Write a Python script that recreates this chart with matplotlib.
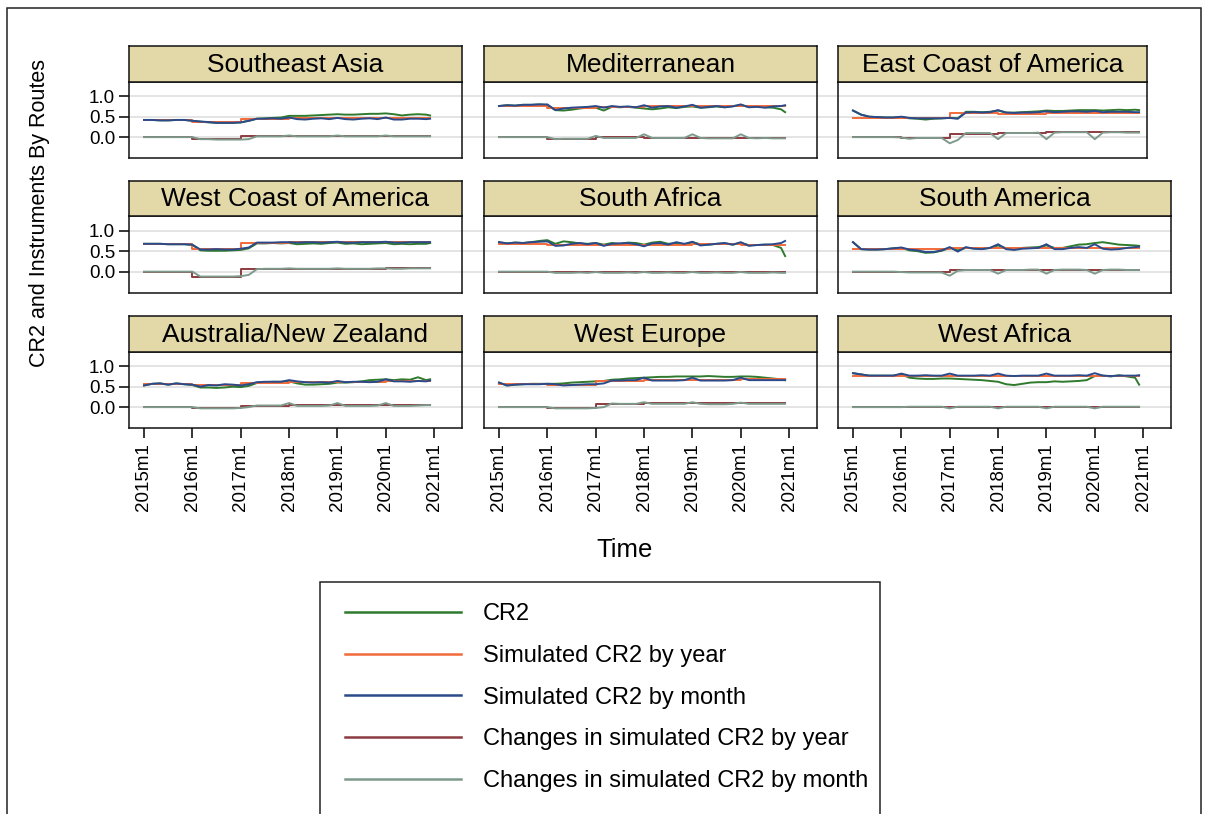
import matplotlib
matplotlib.use("Agg")
import matplotlib.pyplot as plt
import matplotlib.transforms as mtransforms
from matplotlib.lines import Line2D
from matplotlib.patches import Rectangle

plt.rcParams['font.family'] = ['Liberation Sans', 'DejaVu Sans']

# routes (panel order)
routes = ["Southeast Asia", "Mediterranean", "East Coast of America",
          "West Coast of America", "South Africa", "South America",
          "Australia/New Zealand", "West Europe", "West Africa"]

# month index: 0 = 2015m1 ... 71 = 2020m12 (read every 2nd month)
months = list(range(0, 71, 2)) + [71]
year_starts = [0, 12, 24, 36, 48, 60, 71]
tick_pos = [0, 12, 24, 36, 48, 60, 72]
tick_labels = ["2015m1", "2016m1", "2017m1", "2018m1", "2019m1", "2020m1", "2021m1"]

series_names = ["CR2", "Simulated CR2 by year", "Simulated CR2 by month",
                "Changes in simulated CR2 by year", "Changes in simulated CR2 by month"]
series_colors = ["#2f7a2c", "#f26a3a", "#2b4a8b", "#8c3b40", "#7e9a8c"]

# CR2
cr2 = [
    [0.42,0.42,0.41,0.41,0.42,0.42, 0.40,0.38,0.36,0.35,0.35,0.35, 0.36,0.40,0.45,0.46,0.47,0.48,
     0.52,0.52,0.52,0.53,0.54,0.55, 0.56,0.55,0.55,0.56,0.57,0.57, 0.58,0.56,0.53,0.55,0.56,0.55, 0.53],
    [0.76,0.78,0.77,0.79,0.79,0.80, 0.78,0.66,0.65,0.67,0.70,0.72, 0.72,0.65,0.74,0.73,0.74,0.72,
     0.70,0.68,0.70,0.73,0.71,0.74, 0.75,0.72,0.73,0.75,0.73,0.76, 0.78,0.74,0.75,0.73,0.72,0.68, 0.61],
    [0.65,0.55,0.50,0.49,0.48,0.48, 0.49,0.46,0.45,0.43,0.45,0.46, 0.47,0.46,0.62,0.62,0.61,0.62,
     0.65,0.60,0.60,0.61,0.62,0.63, 0.65,0.64,0.64,0.65,0.66,0.66, 0.66,0.65,0.66,0.67,0.66,0.67, 0.66],
    [0.68,0.68,0.68,0.67,0.67,0.67, 0.65,0.52,0.51,0.51,0.51,0.52, 0.53,0.57,0.69,0.69,0.70,0.69,
     0.70,0.67,0.68,0.69,0.68,0.70, 0.71,0.68,0.69,0.67,0.68,0.69, 0.70,0.67,0.68,0.67,0.68,0.68, 0.70],
    [0.72,0.69,0.71,0.70,0.72,0.75, 0.77,0.68,0.74,0.72,0.69,0.68, 0.70,0.66,0.70,0.68,0.71,0.70,
     0.66,0.71,0.73,0.68,0.70,0.66, 0.72,0.67,0.66,0.68,0.69,0.66, 0.70,0.65,0.65,0.66,0.65,0.58, 0.38],
    [0.72,0.55,0.54,0.54,0.55,0.57, 0.58,0.52,0.50,0.46,0.47,0.51, 0.58,0.52,0.58,0.57,0.56,0.58,
     0.64,0.57,0.56,0.58,0.59,0.60, 0.64,0.58,0.58,0.62,0.66,0.67, 0.70,0.72,0.69,0.66,0.65,0.64, 0.63],
    [0.53,0.57,0.58,0.55,0.58,0.56, 0.54,0.48,0.48,0.47,0.48,0.50, 0.49,0.52,0.59,0.61,0.62,0.62,
     0.63,0.58,0.55,0.55,0.56,0.57, 0.60,0.60,0.61,0.63,0.66,0.67, 0.68,0.66,0.68,0.67,0.73,0.66, 0.68],
    [0.60,0.53,0.55,0.56,0.57,0.57, 0.57,0.57,0.58,0.60,0.61,0.62, 0.63,0.64,0.67,0.68,0.70,0.71,
     0.72,0.73,0.74,0.74,0.75,0.75, 0.75,0.75,0.76,0.75,0.74,0.74, 0.75,0.75,0.74,0.72,0.70,0.68, 0.66],
    [0.83,0.80,0.77,0.77,0.77,0.77, 0.80,0.72,0.70,0.69,0.69,0.70, 0.70,0.69,0.68,0.67,0.66,0.64,
     0.62,0.56,0.54,0.57,0.60,0.61, 0.61,0.63,0.62,0.63,0.64,0.66, 0.76,0.77,0.75,0.78,0.75,0.72, 0.55],
]

# simulated CR2 by month
sim_month = [
    [0.42,0.42,0.41,0.41,0.42,0.42, 0.40,0.38,0.37,0.35,0.35,0.35, 0.36,0.40,0.45,0.45,0.46,0.45,
     0.48,0.44,0.43,0.45,0.46,0.44, 0.47,0.44,0.43,0.45,0.46,0.44, 0.48,0.43,0.43,0.45,0.45,0.44, 0.45],
    [0.76,0.78,0.77,0.79,0.79,0.80, 0.80,0.66,0.70,0.72,0.73,0.74, 0.76,0.72,0.76,0.74,0.75,0.73,
     0.78,0.72,0.75,0.76,0.72,0.75, 0.79,0.72,0.74,0.76,0.73,0.75, 0.80,0.73,0.74,0.72,0.75,0.76, 0.78],
    [0.65,0.55,0.50,0.49,0.48,0.48, 0.50,0.47,0.46,0.46,0.46,0.46, 0.47,0.45,0.60,0.61,0.60,0.61,
     0.66,0.60,0.59,0.60,0.60,0.61, 0.63,0.61,0.62,0.63,0.63,0.62, 0.64,0.61,0.62,0.62,0.62,0.61, 0.61],
    [0.68,0.68,0.68,0.67,0.67,0.67, 0.66,0.54,0.54,0.55,0.54,0.54, 0.56,0.59,0.71,0.71,0.71,0.72,
     0.72,0.71,0.72,0.72,0.71,0.72, 0.73,0.71,0.71,0.72,0.72,0.72, 0.73,0.71,0.71,0.72,0.72,0.72, 0.72],
    [0.72,0.69,0.71,0.70,0.72,0.73, 0.74,0.63,0.64,0.68,0.70,0.67, 0.70,0.63,0.68,0.69,0.70,0.67,
     0.62,0.69,0.70,0.66,0.72,0.68, 0.73,0.64,0.66,0.68,0.70,0.66, 0.72,0.63,0.65,0.66,0.67,0.70, 0.75],
    [0.72,0.55,0.54,0.54,0.55,0.57, 0.59,0.54,0.52,0.48,0.48,0.52, 0.60,0.49,0.60,0.56,0.55,0.58,
     0.67,0.55,0.53,0.56,0.57,0.58, 0.67,0.55,0.55,0.58,0.60,0.58, 0.67,0.56,0.54,0.55,0.58,0.60, 0.61],
    [0.53,0.57,0.58,0.55,0.58,0.56, 0.55,0.50,0.54,0.53,0.56,0.55, 0.53,0.56,0.61,0.62,0.62,0.62,
     0.66,0.63,0.61,0.60,0.61,0.60, 0.64,0.61,0.62,0.62,0.61,0.62, 0.68,0.63,0.63,0.62,0.64,0.63, 0.65],
    [0.60,0.53,0.55,0.56,0.56,0.56, 0.57,0.56,0.53,0.54,0.55,0.56, 0.56,0.58,0.65,0.65,0.66,0.66,
     0.72,0.65,0.65,0.65,0.65,0.66, 0.72,0.65,0.65,0.65,0.65,0.66, 0.72,0.66,0.66,0.66,0.66,0.66, 0.66],
    [0.83,0.80,0.77,0.77,0.77,0.77, 0.82,0.77,0.77,0.78,0.77,0.77, 0.82,0.77,0.77,0.77,0.78,0.77,
     0.82,0.77,0.76,0.77,0.77,0.77, 0.82,0.77,0.77,0.77,0.78,0.77, 0.83,0.77,0.76,0.77,0.77,0.77, 0.78],
]

# changes in simulated CR2 by month
chg_month = [
    [0,0,0,0,0,0, 0,-0.05,-0.05,-0.06,-0.06,-0.06, -0.06,-0.05,0.02,0.02,0.02,0.02,
     0.04,0.02,0.02,0.02,0.02,0.02, 0.04,0.02,0.02,0.02,0.02,0.02, 0.04,0.02,0.02,0.02,0.02,0.02, 0.02],
    [0,0,0,0,0,0, 0,-0.05,-0.04,-0.04,-0.04,-0.04, 0.03,-0.02,-0.02,-0.02,-0.02,-0.02,
     0.07,-0.02,-0.02,-0.02,-0.02,-0.02, 0.07,-0.02,-0.03,-0.03,-0.03,-0.03, 0.07,-0.02,-0.03,-0.02,-0.03,-0.03, -0.03],
    [0,0,0,0,0,0, -0.01,-0.04,-0.02,-0.02,-0.02,-0.02, -0.15,-0.07,0.10,0.10,0.10,0.10,
     -0.05,0.10,0.10,0.10,0.10,0.11, -0.05,0.11,0.12,0.12,0.12,0.12, -0.05,0.11,0.12,0.12,0.11,0.11, 0.11],
    [0,0,0,0,0,0, 0,-0.12,-0.12,-0.12,-0.12,-0.12, -0.11,-0.08,0.06,0.07,0.07,0.07,
     0.08,0.07,0.07,0.07,0.07,0.07, 0.08,0.07,0.07,0.07,0.07,0.08, 0.08,0.07,0.07,0.08,0.08,0.08, 0.08],
    [0,0,0,0,0,0, 0,-0.03,-0.03,-0.03,-0.02,-0.03, -0.01,-0.03,-0.03,-0.03,-0.02,-0.03,
     -0.01,-0.03,-0.03,-0.02,-0.03,-0.03, -0.01,-0.03,-0.03,-0.02,-0.03,-0.03, -0.01,-0.03,-0.03,-0.03,-0.02,-0.03, -0.03],
    [0,0,0,0,0,0, -0.01,-0.02,-0.02,-0.02,-0.02,-0.02, -0.10,0.02,0.04,0.04,0.04,0.04,
     -0.05,0.04,0.04,0.04,0.05,0.05, -0.05,0.04,0.05,0.05,0.05,0.04, -0.05,0.04,0.05,0.05,0.04,0.04, 0.04],
    [0,0,0,0,0,0, 0,-0.03,-0.03,-0.03,-0.03,-0.03, -0.02,0.00,0.04,0.04,0.04,0.04,
     0.10,0.03,0.03,0.03,0.03,0.04, 0.10,0.03,0.03,0.03,0.03,0.04, 0.10,0.03,0.03,0.03,0.04,0.05, 0.05],
    [0,0,0,0,0,0, 0,-0.03,-0.03,-0.03,-0.03,-0.03, -0.02,0.00,0.09,0.08,0.08,0.08,
     0.12,0.08,0.08,0.08,0.08,0.08, 0.12,0.08,0.07,0.07,0.07,0.08, 0.11,0.08,0.08,0.08,0.08,0.08, 0.08],
    [0,0,0,0,0,0, 0,0.01,0.01,0.01,0.01,0.01, -0.03,0.01,0.01,0.01,0.01,0.01,
     -0.03,0.01,0.01,0.01,0.01,0.01, -0.03,0.01,0.01,0.01,0.01,0.01, -0.03,0.01,0.01,0.01,0.01,0.01, 0.01],
]

# yearly series: one value per year 2015..2020
sim_year = [
    [0.42, 0.37, 0.44, 0.46, 0.46, 0.46],
    [0.77, 0.72, 0.74, 0.76, 0.75, 0.76],
    [0.47, 0.47, 0.58, 0.57, 0.60, 0.60],
    [0.68, 0.55, 0.71, 0.72, 0.72, 0.72],
    [0.67, 0.66, 0.66, 0.66, 0.67, 0.66],
    [0.55, 0.55, 0.58, 0.58, 0.59, 0.59],
    [0.56, 0.53, 0.60, 0.62, 0.62, 0.64],
    [0.56, 0.55, 0.64, 0.67, 0.67, 0.68],
    [0.75, 0.75, 0.75, 0.75, 0.75, 0.75],
]
chg_year = [
    [0, -0.05, 0.02, 0.03, 0.03, 0.03],
    [0, -0.05, 0.00, -0.02, -0.02, -0.02],
    [0, -0.02, 0.08, 0.10, 0.12, 0.12],
    [0, -0.12, 0.06, 0.07, 0.07, 0.08],
    [0, -0.02, -0.02, -0.02, -0.02, -0.02],
    [0, -0.02, 0.03, 0.04, 0.04, 0.04],
    [0, -0.03, 0.04, 0.05, 0.05, 0.06],
    [0, -0.02, 0.07, 0.09, 0.09, 0.09],
    [0, 0.01, 0.01, 0.01, 0.01, 0.01],
]

W, H = 1210, 814
fig = plt.figure(figsize=(W / 100, H / 100), dpi=100)


def box(l, t, r, b):
    return [l / W, 1 - b / H, (r - l) / W, (b - t) / H]


col_left = [129, 484, 838]
col_right = [462, 817, 1171]
strip_top = [46, 180.5, 316]
strip_h = 35.5
plot_h = 76.5
ylo, yhi = -0.51, 1.36
x_start = -3.72
px_month = 4.03
strip_color = "#e2d8a8"
lw = 1.4

row_axes = []
for i, name in enumerate(routes):
    r, c = divmod(i, 3)
    left = col_left[c]
    right = col_right[c]
    if r == 0 and c == 2:
        right = 1147
    top = strip_top[r] + strip_h
    ax = fig.add_axes(box(left, top, right, top + plot_h))
    ax.patch.set_visible(False)
    ax.set_xlim(x_start, x_start + (right - left) / px_month)
    ax.set_ylim(ylo, yhi)
    if c == 0:
        row_axes.append(ax)

    ax.plot(months, cr2[i], color=series_colors[0], lw=lw)
    ax.plot(year_starts, sim_year[i] + sim_year[i][-1:], color=series_colors[1], lw=lw,
            drawstyle="steps-post")
    ax.plot(months, sim_month[i], color=series_colors[2], lw=lw)
    ax.plot(year_starts, chg_year[i] + chg_year[i][-1:], color=series_colors[3], lw=lw,
            drawstyle="steps-post")
    ax.plot(months, chg_month[i], color=series_colors[4], lw=lw)

    for s in ax.spines.values():
        s.set_linewidth(1.1)
        s.set_color("#111111")

    if c == 0:
        ax.set_yticks([0, 0.5, 1.0])
        ax.set_yticklabels(["0.0", "0.5", "1.0"], fontsize=13.5)
        ax.tick_params(axis="y", length=7, width=1.1, pad=3)
    else:
        ax.set_yticks([])
    if r == 2:
        ax.set_xticks(tick_pos)
        ax.set_xticklabels(tick_labels, rotation=90, fontsize=13.5)
        ax.tick_params(axis="x", length=7, width=1.1, pad=4)
    else:
        ax.set_xticks([])

    sax = fig.add_axes(box(left, strip_top[r], right, top))
    sax.set_facecolor(strip_color)
    sax.set_xticks([])
    sax.set_yticks([])
    for s in sax.spines.values():
        s.set_linewidth(1.1)
        s.set_color("#111111")
    sax.text(0.5, 0.47, name, ha="center", va="center", fontsize=19,
             transform=sax.transAxes)

# grid lines run across the whole row
for r, ax in enumerate(row_axes):
    tr = mtransforms.blended_transform_factory(fig.transFigure, ax.transData)
    right_end = 1147 if r == 0 else 1171
    for g in [0, 0.5, 1.0]:
        fig.add_artist(Line2D([129 / W, right_end / W], [g, g], transform=tr,
                              color="#dcdcdc", lw=1.1, zorder=-1))

fig.text(40 / W, 1 - 213 / H, "CR2 and Instruments By Routes", rotation=90,
         ha="center", va="center", fontsize=15.5)
fig.text(625 / W, 1 - 550 / H, "Time", ha="center", va="center", fontsize=18.5)

handles = [Line2D([], [], color=col, lw=1.8) for col in series_colors]
fig.legend(handles, series_names, loc="upper left", bbox_to_anchor=(345 / W, 1 - 603 / H),
           frameon=False, fontsize=17, handlelength=4.9, handletextpad=0.93,
           labelspacing=0.84, borderpad=0, borderaxespad=0)
fig.add_artist(Rectangle((320 / W, 1 - 840 / H), (880 - 320) / W, (840 - 582) / H,
                         transform=fig.transFigure, fill=False, ec="#222222", lw=1.1))
fig.add_artist(Rectangle((7 / W, 1 - 840 / H), (1201 - 7) / W, (840 - 8) / H,
                         transform=fig.transFigure, fill=False, ec="#222222", lw=1.1))

fig.savefig("out.png", dpi=100)
